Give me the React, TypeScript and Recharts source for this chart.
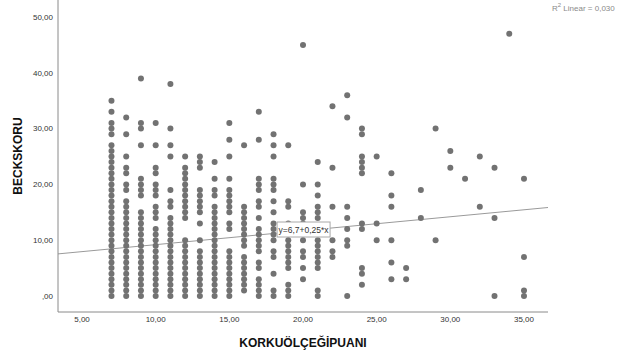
import { ScatterChart, Scatter, XAxis, YAxis, ReferenceLine, ReferenceDot } from "recharts"

// KORKUÖLÇEĞİPUANI values (x) and the BECKSKORU values read for each of them
const korkuValues = [7, 8, 9, 10, 11, 12, 13, 14, 15, 16, 17, 18, 19, 20, 21, 22, 23, 24, 25, 26, 27, 28, 29, 30, 31, 32, 33, 34, 35]

const beckScores: number[][] = [
  [0, 1, 2, 3, 4, 5, 6, 7, 8, 9, 10, 11, 12, 13, 14, 15, 16, 17, 18, 19, 20, 21, 22, 23, 24, 25, 26, 27, 29, 30, 31, 33, 35],
  [0, 1, 2, 3, 4, 5, 6, 7, 8, 9, 10, 11, 12, 13, 14, 15, 16, 17, 19, 20, 22, 23, 25, 29, 32],
  [0, 1, 2, 3, 4, 5, 6, 7, 8, 9, 10, 11, 12, 13, 14, 15, 18, 19, 20, 21, 27, 30, 31, 39],
  [0, 1, 2, 3, 4, 5, 6, 7, 8, 9, 10, 11, 12, 14, 15, 16, 18, 19, 20, 22, 23, 27, 31],
  [0, 1, 2, 3, 4, 5, 6, 7, 8, 9, 10, 11, 12, 13, 14, 16, 17, 19, 25, 27, 30, 38],
  [0, 1, 2, 3, 4, 5, 6, 7, 8, 9, 10, 14, 15, 16, 17, 18, 19, 20, 21, 22, 23, 25],
  [0, 1, 2, 3, 4, 5, 6, 7, 8, 10, 13, 15, 16, 17, 18, 19, 23, 24, 25],
  [0, 1, 2, 3, 4, 5, 6, 7, 8, 9, 10, 11, 12, 13, 14, 15, 16, 18, 19, 21, 24],
  [0, 1, 2, 3, 4, 5, 6, 7, 8, 12, 13, 15, 16, 17, 18, 19, 21, 25, 28, 31],
  [1, 2, 3, 4, 5, 6, 7, 9, 10, 11, 12, 13, 14, 15, 16, 27],
  [0, 1, 2, 3, 5, 6, 8, 9, 10, 11, 12, 14, 16, 17, 19, 20, 21, 28, 33],
  [0, 1, 4, 7, 8, 10, 11, 12, 13, 15, 17, 19, 20, 21, 25, 27, 29],
  [0, 1, 2, 5, 6, 7, 8, 9, 10, 11, 13, 16, 17, 27],
  [3, 5, 7, 8, 10, 11, 12, 13, 14, 15, 20, 45],
  [0, 1, 5, 6, 7, 8, 9, 10, 12, 14, 15, 16, 18, 20, 24],
  [7, 8, 10, 16, 23, 34],
  [0, 9, 10, 12, 14, 16, 32, 36],
  [2, 4, 5, 12, 13, 22, 23, 24, 25, 29, 30],
  [10, 13, 25],
  [3, 6, 10, 16, 18, 22],
  [3, 5],
  [14, 19],
  [10, 30],
  [23, 26],
  [21],
  [16, 25],
  [0, 14, 23],
  [47],
  [0, 1, 7, 21],
]

const xTicks = [5, 10, 15, 20, 25, 30, 35]
const yTicks = [0, 10, 20, 30, 40, 50]
const xDomain = [3.37, 36.63]
const yDomain = [-2.87, 53.05]

// fit line y = 6,7 + 0,25*x
const intercept = 6.7
const slope = 0.25
const equationText = "y=6,7+0,25*x"
const rSquaredText = "0,030"

const points = korkuValues.flatMap((k, i) => beckScores[i].map((b) => ({ korku: k, beck: b })))

const font = "'Liberation Sans', Arial, sans-serif"

const fmt = (v: number) => (v === 0 ? ",00" : v.toFixed(2).replace(".", ","))

const Dot = (props: any) => <circle cx={props.cx} cy={props.cy} r={3} fill="#727272" />

const EquationBox = (props: any) => (
  <g>
    <rect x={props.cx} y={props.cy} width={53} height={15} fill="#fff" stroke="#a8a8a8" strokeWidth={1} />
    <text x={props.cx + 26.5} y={props.cy + 10.5} textAnchor="middle" fontSize={8.5} fontFamily={font} fill="#333">
      {equationText}
    </text>
  </g>
)

export default function App() {
  return (
    <div style={{ position: "absolute", left: 0, top: 0, width: 619, height: 352, background: "#fff" }}>
      <ScatterChart width={619} height={352} margin={{ top: 0, right: 71, bottom: 0, left: 0 }}>
        <XAxis
          type="number"
          dataKey="korku"
          domain={xDomain}
          ticks={xTicks}
          allowDataOverflow
          tickFormatter={fmt}
          tickLine={false}
          tickSize={4}
          tickMargin={0}
          height={40}
          axisLine={{ stroke: "#8a8a8a" }}
          tick={{ fontSize: 8, fill: "#333", fontFamily: font }}
          label={{
            value: "KORKUÖLÇEĞİPUANI",
            position: "insideBottom",
            offset: 5,
            style: { fontSize: 12, fontWeight: "bold", fill: "#111", fontFamily: font },
          }}
        />
        <YAxis
          type="number"
          dataKey="beck"
          domain={yDomain}
          ticks={yTicks}
          allowDataOverflow
          tickFormatter={fmt}
          tickLine={false}
          tickSize={4}
          tickMargin={1}
          width={58}
          axisLine={{ stroke: "#8a8a8a" }}
          tick={{ fontSize: 8, fill: "#333", fontFamily: font }}
          label={{
            value: "BECKSKORU",
            angle: -90,
            position: "insideLeft",
            offset: 18,
            style: { textAnchor: "middle", fontSize: 12, fontWeight: "bold", fill: "#111", fontFamily: font },
          }}
        />
        <Scatter data={points} shape={Dot} isAnimationActive={false} />
        <ReferenceLine
          segment={[
            { x: xDomain[0], y: intercept + slope * xDomain[0] },
            { x: xDomain[1], y: intercept + slope * xDomain[1] },
          ]}
          stroke="#9a9a9a"
          strokeWidth={1}
          ifOverflow="visible"
        />
        <ReferenceDot x={18.24} y={13.26} r={0} shape={EquationBox} ifOverflow="visible" />
      </ScatterChart>
      <div
        style={{
          position: "absolute",
          left: 552,
          top: 2,
          fontSize: 8,
          color: "#8a8a8a",
          fontFamily: font,
          whiteSpace: "nowrap",
        }}
      >
        R<sup style={{ fontSize: 6 }}>2</sup> Linear = {rSquaredText}
      </div>
    </div>
  )
}
